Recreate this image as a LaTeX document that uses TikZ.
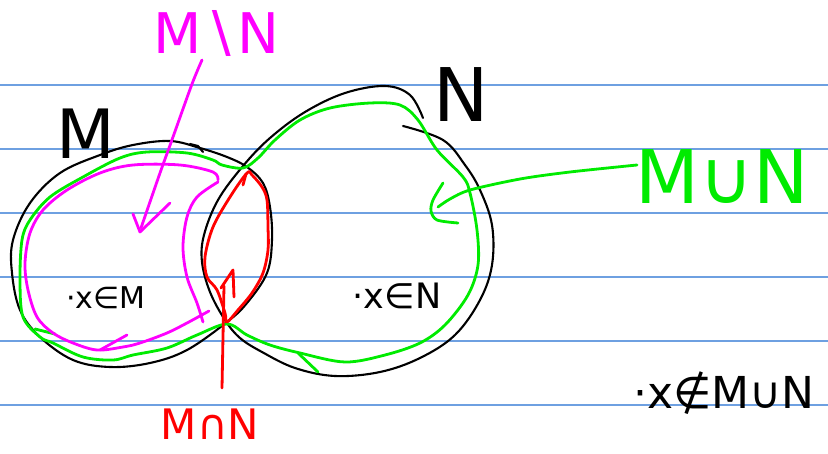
\documentclass[tikz,border=0pt]{standalone}
\usepackage{fontspec}
\setmainfont{DejaVu Sans}
\definecolor{ruled}{RGB}{110,160,225}
\definecolor{mag}{RGB}{255,0,255}
\definecolor{grn}{RGB}{0,235,0}
\definecolor{rd}{RGB}{255,0,0}
\newcommand{\fs}[1]{\fontsize{#1}{#1}\selectfont}
\begin{document}
\begin{tikzpicture}[x=1pt,y=-1pt,line cap=round,line join=round,
  ruleline/.style={ruled,line width=1.1pt},
  outline/.style={black,line width=2.1pt},
  pen/.style={line width=2.8pt},
  lbl/.style={inner sep=0pt,anchor=center}]
\fill[white] (0,0) rectangle (828,453);
\path[use as bounding box] (0,0) rectangle (828,453);
% ruled lines
\foreach \yy in {85,149,213,277,341,405}
  \draw[ruleline] (0,\yy) -- (828,\yy);

% labels
\node[lbl] (lblM) at (86,134) {\fs{68}M};
\node[lbl] (lblN) at (461,95) {\fs{74}N};
\node[lbl,text=mag] (lblD) at (216,33) {\fs{56}M∖N};
\node[lbl,text=grn] (lblU) at (722,177) {\fs{74}M∪N};
\node[lbl,text=rd] (lblI) at (210,424) {\fs{42}M∩N};
\node[lbl] (ptM) at (106,298) {\fs{30}·x∈M};
\node[lbl] (ptN) at (397,296) {\fs{35}·x∈N};
\node[lbl] (ptOut) at (724,393) {\fs{44}·x∉M∪N};

% set M
\draw[outline] plot[smooth cycle,tension=0.6] coordinates {(200,148) (170,141) (133,145) (100,155) (60,173) (30,203) (13,240) (12,273) (20,310) (40,337) (73,360) (110,367) (150,363) (187,350) (227,322) (247,303) (267,273) (272,240) (270,207) (263,183) (247,167) (227,157)};
\draw[outline] (190,144) -- (198,146) -- (203,152);
% set N
\draw[outline] plot[smooth,tension=0.6] coordinates {(403,126) (443,140) (465,165) (480,190) (492,225) (492,265) (480,300) (455,335) (420,358) (380,372) (335,376) (295,368) (262,352) (240,338) (225,320) (210,292) (202,262) (204,235) (218,200) (243,166) (270,138) (305,112) (345,93) (385,86) (410,95) (423,118)};

% union (green)
\draw[grn,pen] plot[smooth cycle,tension=0.55] coordinates {(243,168) (222,165) (213,160) (187,153) (147,152) (120,158) (83,177) (50,197) (30,220) (22,240) (20,280) (23,317) (40,337) (53,343) (83,357) (113,360) (133,355) (167,348) (197,335) (227,324) (247,335) (270,345) (300,353) (345,362) (385,355) (420,343) (445,325) (468,295) (478,265) (477,230) (470,193) (463,177) (437,150) (418,120) (400,105) (370,103) (330,108) (300,120) (275,140) (258,158)};
\draw[grn,pen] (35,329) -- (55,334);
\draw[grn,pen] (298,353) -- (318,372);

% difference (magenta)
\draw[mag,pen] plot[smooth,tension=0.55] coordinates {(218,180) (213,172) (180,165) (133,165) (100,173) (67,190) (43,210) (30,233) (25,263) (28,290) (37,317) (53,333) (73,343) (97,350) (123,347) (140,343) (167,333) (187,323) (209,311)};
\draw[mag,pen] plot[smooth,tension=0.55] coordinates {(218,182) (197,197) (187,217) (183,247) (187,277) (197,303) (203,322)};
\draw[mag,pen] (100,350) -- (127,335);

% intersection (red)
\draw[rd,pen] plot[smooth cycle,tension=0.55] coordinates {(247,173) (230,197) (213,227) (205,257) (207,277) (217,290) (225,313) (227,322) (238,310) (252,293) (263,273) (268,250) (268,227) (267,200) (262,187) (252,175)};
\draw[rd,pen] (243,185) -- (246,174);

% arrows
\coordinate (dStart) at (202,60);
\coordinate (dEnd) at (141,228);
\draw[mag,pen] plot[smooth] coordinates {(dStart) (192,84) (173,137) (160,173) (dEnd)};
\draw[mag,pen] (133,214) -- (140,232) -- (170,203);

\coordinate (uStart) at (637,165);
\coordinate (uEnd) at (438,207);
\draw[grn,pen] plot[smooth] coordinates {(uStart) (570,172) (520,179) (470,190) (450,199) (uEnd)};
\draw[grn,pen] plot[smooth] coordinates {(443,183) (433,200) (431,211) (437,220) (458,223)};

\coordinate (iStart) at (222,388);
\coordinate (iEnd) at (224,286);
\draw[rd,pen] (iStart) -- (iEnd);
\draw[rd,pen] (221,288) -- (233,270) -- (234,297);
\end{tikzpicture}
\end{document}
